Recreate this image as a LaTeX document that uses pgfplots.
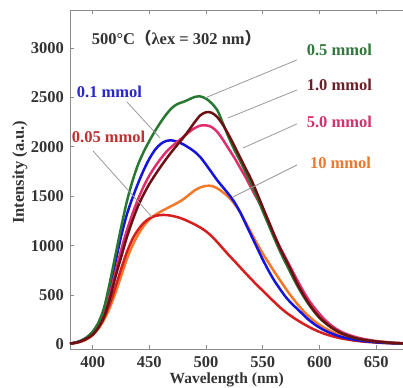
\documentclass[border=0pt]{standalone}
\usepackage{fontspec}
\setmainfont{Liberation Serif}
\newfontfamily\cjk{Noto Sans CJK SC}
\usepackage{pgfplots}
\pgfplotsset{compat=1.18}
\usepackage{pgfplotstable}
\usetikzlibrary{calc}

\definecolor{cgreen}{RGB}{40,120,50}
\definecolor{cblue}{RGB}{20,20,220}
\definecolor{cbrown}{RGB}{110,15,20}
\definecolor{cpink}{RGB}{225,45,110}
\definecolor{corange}{RGB}{245,120,40}
\definecolor{cred}{RGB}{215,30,30}
\definecolor{lgreen}{RGB}{50,120,60}
\definecolor{lbrown}{RGB}{110,30,40}
\definecolor{lpink}{RGB}{210,50,110}
\definecolor{lorange}{RGB}{235,120,50}
\definecolor{lblue}{RGB}{40,40,200}
\definecolor{lred}{RGB}{190,50,50}

\tikzset{
  annot/.style={draw=black!40, line width=0.8pt},
  lab/.style={anchor=west, inner sep=0pt, font=\fontsize{16.5}{18}\selectfont\bfseries},
}

\pgfplotstableread{
x   green brown pink blue orange red
380 10   10   10   10   8    8
385 20   18   19   20   16   17
390 40   35   37   40   30   32
395 75   62   68   72   55   58
400 130  100  112  125  95   100
405 220  170  190  210  160  170
410 370  280  310  350  250  270
415 620  460  500  560  370  410
420 900  680  730  830  520  580
425 1180 880  950  1090 690  760
430 1440 1080 1150 1310 860  930
435 1650 1250 1320 1480 1000 1065
440 1820 1400 1470 1630 1110 1160
445 1950 1520 1600 1765 1200 1230
450 2060 1625 1710 1880 1265 1275
455 2160 1715 1800 1970 1310 1300
460 2250 1800 1880 2030 1345 1310
465 2330 1880 1950 2060 1375 1310
470 2395 1955 2005 2065 1405 1302
475 2435 2025 2055 2050 1435 1288
480 2455 2095 2100 2025 1470 1268
485 2480 2170 2150 1990 1515 1243
490 2505 2250 2190 1950 1560 1215
495 2510 2320 2215 1895 1590 1183
500 2488 2350 2218 1820 1605 1145
505 2440 2345 2200 1740 1605 1095
510 2370 2300 2150 1660 1580 1035
515 2235 2220 2070 1590 1540 970
520 2095 2120 1980 1520 1490 905
525 1970 2010 1890 1440 1425 845
530 1860 1895 1790 1340 1340 782
535 1740 1780 1690 1220 1235 720
540 1620 1665 1580 1100 1125 660
545 1490 1530 1475 980  1020 600
550 1350 1390 1375 860  920  545
555 1215 1250 1250 750  830  488
560 1080 1110 1115 650  740  432
565 950  980  990  565  655  378
570 830  865  880  485  570  330
575 715  750  770  420  490  288
580 605  625  660  365  418  250
585 505  520  555  310  350  215
590 415  425  460  255  292  183
595 338  343  380  210  242  153
600 270  275  310  172  200  128
605 218  222  248  140  165  106
610 175  177  197  115  135  88
615 140  140  157  93   109  73
620 112  110  125  75   88   60
625 89   88   101  61   71   50
630 70   70   82   50   57   41
635 56   56   66   41   47   34
640 45   45   54   33   38   28
645 37   37   44   27   31   24
650 30   30   36   22   26   20
655 25   25   29   18   22   17
660 20   20   24   15   18   14
665 16   16   19   12   15   12
670 13   13   16   10   12   10
675 10   10   12   8    10   8
}\spectra

\begin{document}
\begin{tikzpicture}
\begin{axis}[name=ax, scale only axis, width=333pt, height=339pt,
  xmin=380, xmax=673.7, ymin=-45.5, ymax=3385,
  axis x line*=box, axis y line*=left,
  axis line style={draw=black!45, line width=0.8pt},
  tick align=inside, major tick length=4pt,
  tick style={draw=black!45, line width=0.8pt},
  xtick={400,450,...,650}, ytick={0,500,...,3000},
  ticklabel style={font=\fontsize{16.5}{18}\selectfont\bfseries, text=black!80},
  xticklabel style={yshift=-3.5pt},
  yticklabel style={xshift=-2.5pt},
  /pgf/number format/assume math mode=true,
  /pgf/number format/1000 sep={},
  xlabel={Wavelength (nm)},
  ylabel={Intensity (a.u.)},
  xlabel style={at={(rel axis cs:0.4705,-0.1015)}, anchor=base, inner sep=0pt, font=\fontsize{15.5}{17}\selectfont\bfseries, text=black!80},
  ylabel style={at={(rel axis cs:-0.1502,0.521)}, anchor=center, font=\fontsize{16.5}{18}\selectfont\bfseries, text=black!80},
  every axis plot/.append style={line width=2.5pt, smooth, no markers},
]
\addplot[corange] table[x=x, y=orange] {\spectra};
\addplot[cred] table[x=x, y=red] {\spectra};
\addplot[cblue] table[x=x, y=blue] {\spectra};
\addplot[cpink] table[x=x, y=pink] {\spectra};
\addplot[cgreen] table[x=x, y=green] {\spectra};
\addplot[cbrown] table[x=x, y=brown] {\spectra};

\draw[annot] (axis cs:580.2,2880) -- (axis cs:499,2494);
\draw[annot] (axis cs:580.2,2576) -- (axis cs:519.3,2292);
\draw[annot] (axis cs:580.2,2232) -- (axis cs:532.6,1989);
\draw[annot] (axis cs:580.2,1817) -- (axis cs:523.7,1493);
\draw[annot] (axis cs:430.3,2454) -- (axis cs:459.4,2090);
\draw[annot] (axis cs:400.3,1959) -- (axis cs:452.3,1290);

\node[lab, text=lgreen] at (axis cs:588.7,2981) {0.5 mmol};
\node[lab, text=lbrown] at (axis cs:588.7,2626) {1.0 mmol};
\node[lab, text=lpink] at (axis cs:588.7,2255) {5.0 mmol};
\node[lab, text=lorange] at (axis cs:591.6,1842) {10 mmol};
\node[lab, text=lblue] at (axis cs:385.9,2559) {0.1 mmol};
\node[lab, text=lred] at (axis cs:381.5,2103) {0.05 mmol};
\node[lab, text=black!80] at (axis cs:399.1,3099) {500°C{\cjk （}λex = 302 nm{\cjk ）}};
\end{axis}
\pgfresetboundingbox
\path[use as bounding box] ($(ax.south west)+(-70pt,-38pt)$) rectangle ($(ax.north east)+(0pt,10pt)$);
\end{tikzpicture}
\end{document}
